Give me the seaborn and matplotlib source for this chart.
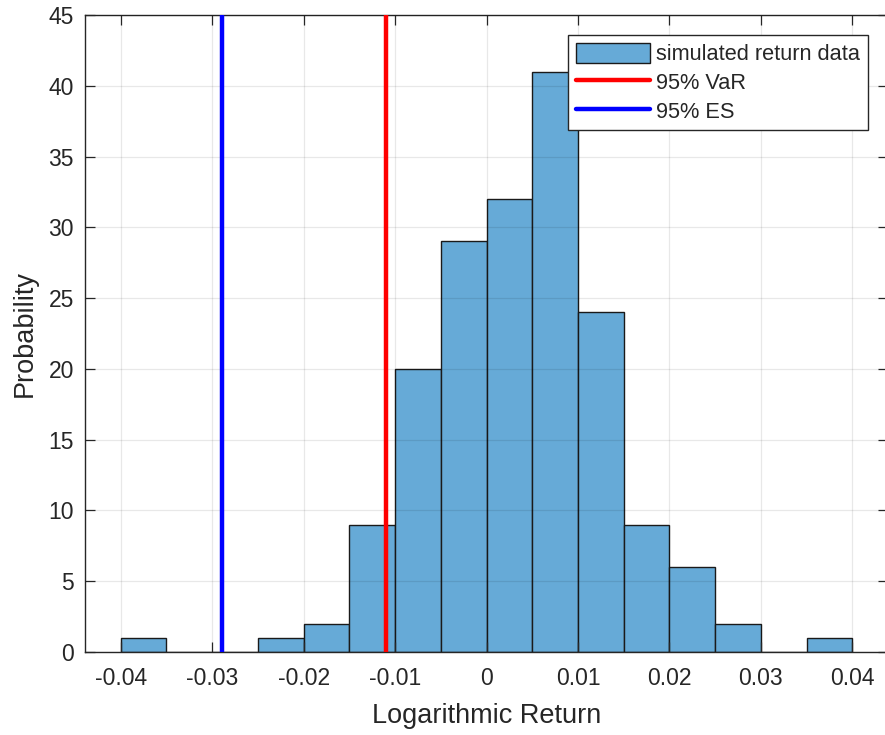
import numpy as np
import pandas as pd
import matplotlib
matplotlib.use("Agg")
import matplotlib.pyplot as plt
import seaborn as sns
from matplotlib.patches import Patch
from matplotlib.lines import Line2D

# ---- data ----
bin_edges = [-0.040, -0.035, -0.030, -0.025, -0.020, -0.015, -0.010, -0.005,
             0.000, 0.005, 0.010, 0.015, 0.020, 0.025, 0.030, 0.035, 0.040]
counts = [1, 0, 0, 1, 2, 9, 20, 29, 32, 41, 24, 9, 6, 2, 0, 1]
var_95 = -0.0110
es_95 = -0.0289
x_ticks = [-0.04, -0.03, -0.02, -0.01, 0, 0.01, 0.02, 0.03, 0.04]
x_tick_labels = ["-0.04", "-0.03", "-0.02", "-0.01", "0", "0.01", "0.02", "0.03", "0.04"]
y_ticks = [0, 5, 10, 15, 20, 25, 30, 35, 40, 45]
legend_labels = ["simulated return data", "95% VaR", "95% ES"]

centers = [(a + b) / 2 for a, b in zip(bin_edges[:-1], bin_edges[1:])]
df = pd.DataFrame({"ret": centers, "n": counts})

sns.set_theme(style="white")
plt.rcParams["font.family"] = ["Liberation Sans", "DejaVu Sans"]

fig = plt.figure(figsize=(8.85, 7.35), dpi=100)
ax = fig.add_axes([85 / 885, 83 / 735, 803 / 885, 637 / 735])

bar_color = "#66AAD7"
sns.histplot(data=df, x="ret", weights="n", bins=bin_edges, ax=ax,
             color=bar_color, alpha=1.0, edgecolor="#1a1a1a", linewidth=1.0)

ax.axvline(var_95, color="#FF0000", linewidth=3.2, zorder=4)
ax.axvline(es_95, color="#0000FF", linewidth=3.2, zorder=4)

ax.set_xlim(-0.0439, 0.0439)
ax.set_ylim(0, 45)
ax.set_xticks(x_ticks)
ax.set_xticklabels(x_tick_labels)
ax.set_yticks(y_ticks)

ax.set_axisbelow(False)
ax.grid(True, color="black", alpha=0.09, linewidth=0.9, zorder=3)

for s in ax.spines.values():
    s.set_visible(True)
    s.set_color("#262626")
    s.set_linewidth(1.0)

ax.tick_params(axis="both", which="both", direction="in", length=7, width=0.9,
               colors="#262626", labelcolor="#262626", labelsize=16.5,
               top=True, right=True, bottom=True, left=True)
ax.tick_params(axis="x", pad=11)
ax.tick_params(axis="y", pad=8)

ax.set_xlabel("Logarithmic Return", fontsize=19.5, color="#262626", labelpad=9)
ax.set_ylabel("Probability", fontsize=19.5, color="#262626", labelpad=8)

handles = [Patch(facecolor=bar_color, edgecolor="#1a1a1a", linewidth=1.0),
           Line2D([0], [0], color="#FF0000", linewidth=3.2),
           Line2D([0], [0], color="#0000FF", linewidth=3.2)]
leg = ax.legend(handles, legend_labels, loc="upper right",
                bbox_to_anchor=((868 - 85) / 803, (652 - 35) / 637),
                borderaxespad=0, fontsize=15.7, frameon=True, fancybox=False,
                framealpha=1, edgecolor="#262626", handlelength=3.4,
                handleheight=1.05, handletextpad=0.3, labelspacing=0.28,
                borderpad=0.35)
leg.get_frame().set_linewidth(1.0)
for t in leg.get_texts():
    t.set_color("#262626")

fig.savefig("out.png", dpi=100)
